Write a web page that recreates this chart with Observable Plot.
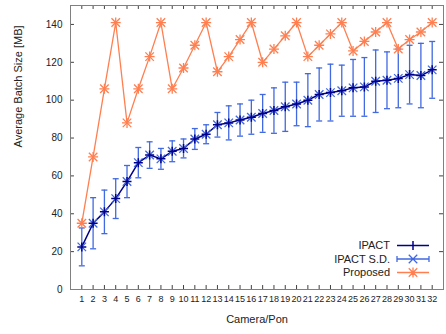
<!DOCTYPE html>
<html><head><meta charset="utf-8">
<script src="https://cdn.jsdelivr.net/npm/d3@7"></script>
<script src="https://cdn.jsdelivr.net/npm/@observablehq/plot@0.6"></script>
<style>
body{margin:0;background:#fff;}
#wrap{position:relative;width:446px;height:334px;}
svg{font-family:"Liberation Sans",Arial,sans-serif;}
</style></head><body><div id="wrap"></div>
<script>
const cameras = [1,2,3,4,5,6,7,8,9,10,11,12,13,14,15,16,17,18,19,20,21,22,23,24,25,26,27,28,29,30,31,32];
const ipact = [22.5,35,41,48,57,67,71,69,73,74.5,79.5,82,87,88,89.5,91,93,94.5,96.5,98,100,103,104,105,106.5,107,110,110.5,111.5,113.5,113,116];
const ipactSD = [10,13.5,11.5,10.5,8.5,8,7,5.5,5.5,5,5.5,5,6.5,9,8.5,9,10,12,13,11.5,14,14,15,13.5,15,15.5,16.5,15,15.5,15.5,17,15];
const proposed = [35,70,106,141,88,106,123,141,106,117,129,141,115,123,132,141,120,127,134,141,123,129,135,141,126,131,136,141,127,132,136,141];
const yTicks = [0,20,40,60,80,100,120,140];
const seriesNames = ["IPACT","IPACT S.D.","Proposed"];

const NAVY = "#00008b", ROYAL = "#4169e1", CORAL = "#ff7f50";
const data = cameras.map((c,i)=>({cam:c, m:ipact[i], sd:ipactSD[i], p:proposed[i]}));

const rad = s => Math.sqrt(s/Math.PI);
const plusSym = {draw(ctx,s){const r=rad(s);ctx.moveTo(-r,0);ctx.lineTo(r,0);ctx.moveTo(0,-r);ctx.lineTo(0,r);}};
const timesSym = {draw(ctx,s){const r=rad(s)*0.85;ctx.moveTo(-r,-r);ctx.lineTo(r,r);ctx.moveTo(-r,r);ctx.lineTo(r,-r);}};
const capSym = {draw(ctx,s){const r=rad(s);ctx.moveTo(-r,0);ctx.lineTo(r,0);}};

const TK = "#404040";
const xTickLen = 0.35, yTickLen = 2.1;

const chart = Plot.plot({
  width: 446, height: 334,
  marginLeft: 70, marginRight: 3, marginTop: 5, marginBottom: 45,
  style: {fontFamily: "'Liberation Sans', Arial, sans-serif", fontSize: "10px", color: "#222", background: "#fff"},
  x: {domain: [0, 33]},
  y: {domain: [0, 150]},
  marks: [
    Plot.axisX({ticks: cameras, tickSize: 0, tickPadding: 6, label: null, tickFormat: d=>String(d), fontSize: 9}),
    Plot.axisY({ticks: yTicks, tickSize: 0, tickPadding: 8, label: null}),
    // inward ticks
    Plot.ruleX(cameras, {x: d=>d, y1: 0, y2: yTickLen, stroke: TK}),
    Plot.ruleX(cameras, {x: d=>d, y1: 150, y2: 150-yTickLen, stroke: TK}),
    Plot.ruleY(yTicks, {y: d=>d, x1: 0, x2: xTickLen, stroke: TK}),
    Plot.ruleY(yTicks, {y: d=>d, x1: 33, x2: 33-xTickLen, stroke: TK}),
    Plot.frame({stroke: "#808080"}),
    // error bars
    Plot.ruleX(data, {x: "cam", y1: d=>d.m-d.sd, y2: d=>d.m+d.sd, stroke: ROYAL, strokeWidth: 1.3}),
    Plot.dot(data, {x: "cam", y: d=>d.m-d.sd, symbol: capSym, r: 3, stroke: ROYAL, fill: "none", strokeWidth: 1.3}),
    Plot.dot(data, {x: "cam", y: d=>d.m+d.sd, symbol: capSym, r: 3, stroke: ROYAL, fill: "none", strokeWidth: 1.3}),
    Plot.line(data, {x: "cam", y: "m", stroke: NAVY, strokeWidth: 1.5}),
    Plot.dot(data, {x: "cam", y: "m", symbol: timesSym, r: 5, stroke: ROYAL, fill: "none", strokeWidth: 1.3}),
    Plot.dot(data, {x: "cam", y: "m", symbol: plusSym, r: 4.5, stroke: NAVY, fill: "none", strokeWidth: 1.5}),
    // proposed
    Plot.line(data, {x: "cam", y: "p", stroke: CORAL, strokeWidth: 1.3}),
    Plot.dot(data, {x: "cam", y: "p", symbol: plusSym, r: 5, stroke: CORAL, fill: "none", strokeWidth: 1.3}),
    Plot.dot(data, {x: "cam", y: "p", symbol: timesSym, r: 5, stroke: CORAL, fill: "none", strokeWidth: 1.3}),
    // axis titles
    Plot.text(["Average Batch Size [MB]"], {frameAnchor: "left", dx: -52, rotate: -90, fontSize: 11, fill: "#222"}),
    Plot.text(["Camera/Pon"], {frameAnchor: "bottom", dy: 33, fontSize: 11, fill: "#222"})
  ]
});
document.getElementById("wrap").appendChild(chart);

// legend
const svg = d3.select(chart);
const g = svg.append("g").attr("font-size", 11).attr("fill", "#222");
const rows = [245.5, 259, 272.5];
const x0 = 397, x1 = 429, xm = 413;
seriesNames.forEach((name, i) => {
  const y = rows[i];
  g.append("text").attr("x", 390).attr("y", y).attr("text-anchor", "end").attr("dy", "0.35em").text(name);
});
// IPACT sample
g.append("path").attr("d", `M${x0},${rows[0]}H${x1}M${xm},${rows[0]-4.5}V${rows[0]+4.5}`).attr("stroke", NAVY).attr("stroke-width", 1.5).attr("fill", "none");
// SD sample
{const y=rows[1]; const r=4.25;
g.append("path").attr("d", `M${x0},${y}H${x1}M${x0},${y-3}V${y+3}M${x1},${y-3}V${y+3}M${xm-r},${y-r}L${xm+r},${y+r}M${xm-r},${y+r}L${xm+r},${y-r}`).attr("stroke", ROYAL).attr("stroke-width", 1.3).attr("fill", "none");}
// Proposed sample
{const y=rows[2]; const r=4.25;
g.append("path").attr("d", `M${x0},${y}H${x1}M${xm-5},${y}H${xm+5}M${xm},${y-5}V${y+5}M${xm-r},${y-r}L${xm+r},${y+r}M${xm-r},${y+r}L${xm+r},${y-r}`).attr("stroke", CORAL).attr("stroke-width", 1.3).attr("fill", "none");}
</script></body></html>
